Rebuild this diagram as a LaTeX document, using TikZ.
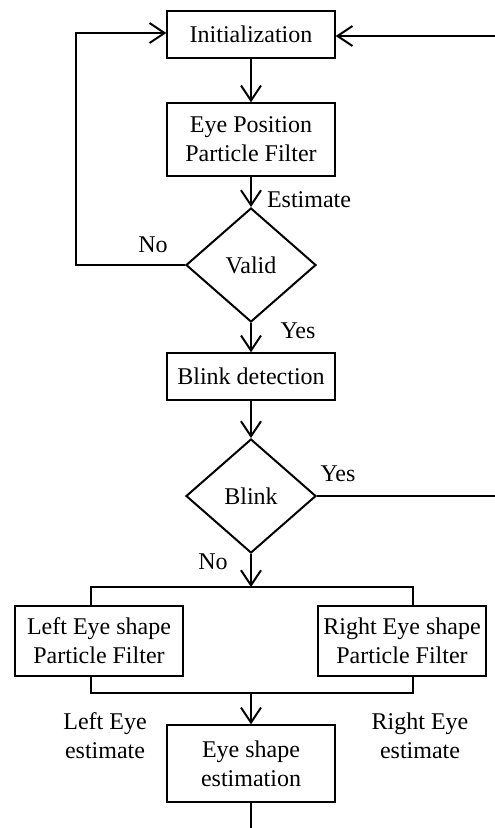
\documentclass[tikz,border=0pt]{standalone}
\usepackage{fontspec}
\setmainfont{Liberation Serif}
\usetikzlibrary{shapes.geometric,arrows.meta}
\begin{document}
\begin{tikzpicture}[x=1pt,y=-1pt,
  txt/.style={font=\fontsize{24}{29}\selectfont},
  box/.style={txt,draw,line width=1.3pt,minimum width=168pt,align=center,inner sep=0pt},
  dec/.style={txt,draw,diamond,line width=2pt,minimum width=130pt,minimum height=114pt,inner sep=0pt},
  conn/.style={line width=2pt},
  arr/.style={conn,-{Straight Barb[length=15pt,width=20pt,line width=2pt]}},
  lbl/.style={txt,inner sep=0pt,align=center}]
\useasboundingbox (0,0) rectangle (495,828);
\node[box,minimum height=47pt] (init) at (251,34.5) {Initialization};
\node[box,minimum height=73pt] (epf) at (251,139.5) {Eye Position\\Particle Filter};
\node[dec] (valid) at (251,265) {Valid};
\node[box,minimum height=47pt] (blinkdet) at (251,376.5) {Blink detection};
\node[dec] (blink) at (251,496) {Blink};
\node[box,minimum height=70pt] (left) at (99,641) {Left Eye shape\\Particle Filter};
\node[box,minimum height=70pt] (right) at (402,641) {Right Eye shape\\Particle Filter};
\node[box,minimum height=77pt] (ese) at (251,763.5) {Eye shape\\estimation};
\coordinate (splitL) at (91,587);
\coordinate (splitR) at (413,587);
\coordinate (mergeL) at (91,693);
\coordinate (mergeR) at (413,693);
\coordinate (merge) at (251,693);
\coordinate (noB) at (76,33);
\coordinate (yesA) at (498,36);
\coordinate (bottomend) at (251,829);
\draw[arr] (init) -- (epf);
\draw[arr] (epf) -- (valid);
\draw[arr] (valid) -- (blinkdet);
\draw[arr] (blinkdet) -- (blink);
\draw[arr] (blink) -- (blink.south |- splitL);
\draw[conn] (splitL |- left.north) -- (splitL) -- (splitR) -- (splitR |- right.north);
\draw[conn] (mergeL |- left.south) -- (mergeL) -- (mergeR) -- (mergeR |- right.south);
\draw[arr] (merge) -- (ese);
\draw[conn] (ese) -- (bottomend);
\draw[arr] (valid.west) -| (noB) -- (noB -| init.west);
\draw[arr] (blink.east) -| (yesA) -- (yesA -| init.east);
\node[lbl] (estl) at (309,200) {Estimate};
\node[lbl] (nol) at (153,245) {No};
\node[lbl] (yes1) at (298,331) {Yes};
\node[lbl] (yes2) at (338,474) {Yes};
\node[lbl] (no2) at (213,562) {No};
\node[lbl] (le) at (105,736) {Left Eye\\estimate};
\node[lbl] (re) at (420,736) {Right Eye\\estimate};
\end{tikzpicture}
\end{document}
